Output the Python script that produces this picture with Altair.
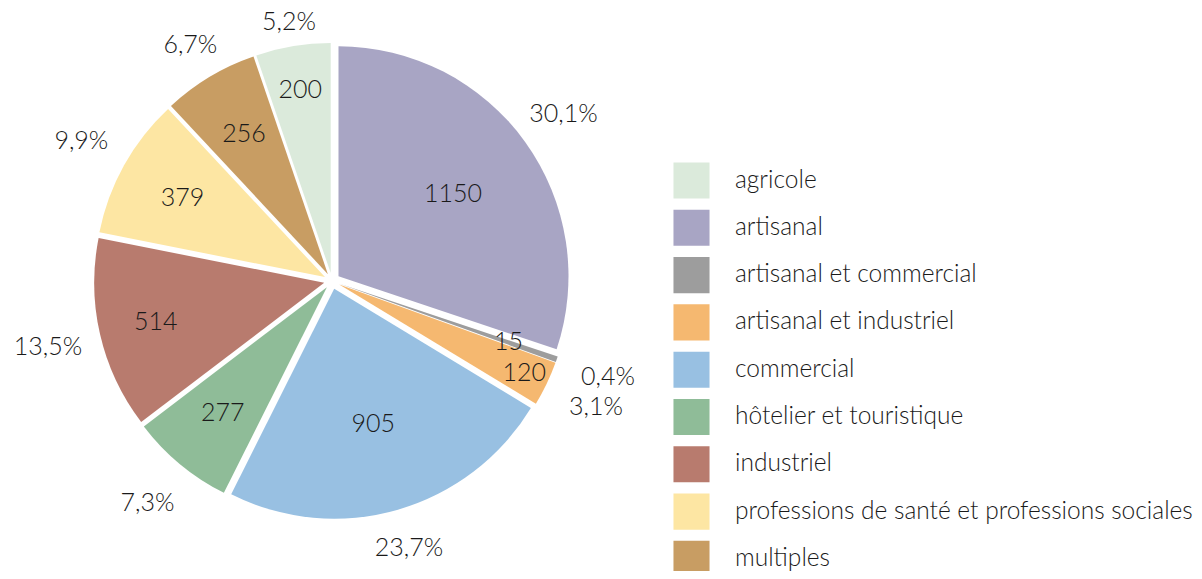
import altair as alt
import pandas as pd

categories = ["artisanal", "artisanal et commercial", "artisanal et industriel", "commercial",
              "hôtelier et touristique", "industriel",
              "professions de santé et professions sociales", "multiples", "agricole"]
values = [1150, 15, 120, 905, 277, 514, 379, 256, 200]
legend_order = ["agricole", "artisanal", "artisanal et commercial", "artisanal et industriel",
                "commercial", "hôtelier et touristique", "industriel",
                "professions de santé et professions sociales", "multiples"]
colors = ["#dbeadb", "#a8a5c4", "#9d9d9d", "#f5b870", "#98c0e2", "#8fbc98", "#b87b6e",
          "#fde6a3", "#c89d63"]

df = pd.DataFrame({"cat": categories, "value": values, "ord": list(range(len(categories)))})

FONT = "Lato"
CX, CY = 324, 273   # pie centre inside the plot area
EXPLODE = 8         # outward shift of every slice
R = 230

base = alt.Chart(df).transform_joinaggregate(
    total="sum(value)"
).transform_window(
    cum="sum(value)", sort=[alt.SortField("ord", order="ascending")],
    frame=[None, 0]
).transform_calculate(
    t1="datum.cum / datum.total * 2 * PI",
    t0="(datum.cum - datum.value) / datum.total * 2 * PI",
    frac="datum.value / datum.total",
).transform_calculate(
    tm="(datum.t0 + datum.t1) / 2",
    pct="replace(format(datum.frac * 100, '.1f'), '.', ',') + '%'",
    lr=("datum.frac > 0.2 ? 141 : datum.frac >= 0.1 ? 173 : datum.frac >= 0.06 ? 163 : "
        "datum.frac >= 0.04 ? 186 : datum.frac >= 0.01 ? 205 : 179"),
).transform_calculate(
    px=f"{CX} + {EXPLODE} * sin(datum.tm)",
    py=f"{CY} - {EXPLODE} * cos(datum.tm)",
    orr="240 + abs(sin(datum.tm)) * 40 + abs(cos(datum.tm)) * 14 - cos(datum.tm) * 6",
).encode(
    x=alt.X("px:Q", scale=None),
    y=alt.Y("py:Q", scale=None),
)

pie = base.mark_arc(outerRadius=R).encode(
    theta=alt.Theta("t0:Q", scale=None),
    theta2="t1:Q",
    color=alt.Color("cat:N", scale=alt.Scale(domain=legend_order, range=colors),
                    legend=alt.Legend(title=None, orient="none", legendX=665, legendY=154,
                                      symbolType="square", symbolSize=1300,
                                      symbolStrokeWidth=0, labelFont=FONT, labelFontSize=24.5,
                                      labelFontWeight=300,
                                      labelColor="#1a1a1a", labelOffset=25, rowPadding=10.3,
                                      labelLimit=600)),
)

inner = base.mark_text(font=FONT, fontSize=25, fontWeight=300, color="#1a1a1a").encode(
    theta=alt.Theta("tm:Q", scale=None),
    radius=alt.Radius("lr:Q", scale=None),
    text=alt.Text("value:Q"),
)

outer = base.mark_text(font=FONT, fontSize=25, fontWeight=300, color="#1a1a1a").encode(
    theta=alt.Theta("tm:Q", scale=None),
    radius=alt.Radius("orr:Q", scale=None),
    text=alt.Text("pct:N"),
)

chart = alt.layer(pie, inner, outer).properties(
    width=1186, height=563, padding=0,
    autosize=alt.AutoSizeParams(type="none"),
).configure_view(stroke=None)

chart.save("out.html", embed_options={"renderer": "svg", "actions": False})
